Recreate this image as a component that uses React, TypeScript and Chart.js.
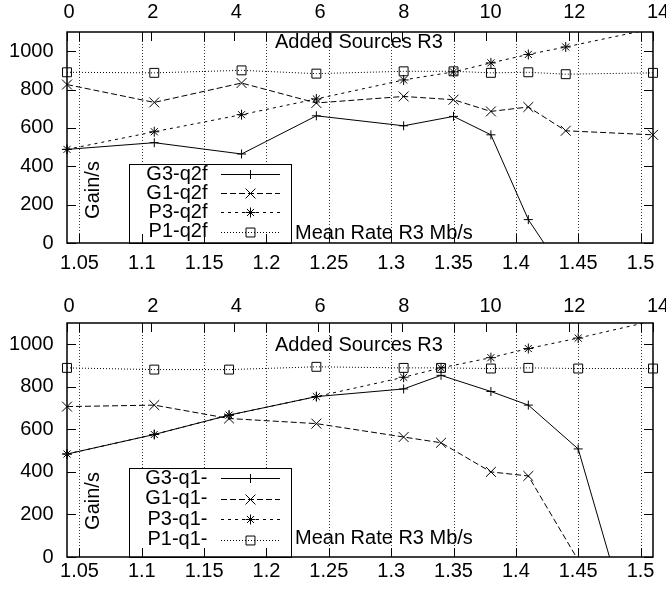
import React, { useEffect, useRef } from 'react';
import { Chart, registerables } from 'chart.js';

Chart.register(...registerables);

const FONT = '20px "Liberation Sans", Arial, sans-serif';
const CANVAS_W = 666;
const AREA_LEFT = 67;
const AREA_RIGHT = 653;
const TICK_LEN = 9;

// Axis ticks
const rateTicks = [1.05, 1.1, 1.15, 1.2, 1.25, 1.3, 1.35, 1.4, 1.45, 1.5];
const rateTickLabels = ['1.05', '1.1', '1.15', '1.2', '1.25', '1.3', '1.35', '1.4', '1.45', '1.5'];
const sourceTicks = [0, 2, 4, 6, 8, 10, 12, 14];
const gainTicks = [0, 200, 400, 600, 800, 1000];
const rateRange = [1.04, 1.51];
const sourceRange = [0, 14];
const gainRange = [0, 1100];

// q2f run: mean rate R3 (Mb/s) and gain per second
const rateQ2f = [1.04, 1.11, 1.18, 1.24, 1.31, 1.35, 1.38, 1.41, 1.44, 1.51];
const g3Q2f = [488, 523, 464, 663, 611, 660, 564, 122, -170, null];
const g1Q2f = [826, 733, 834, 730, 764, 747, 686, 709, 585, 564];
const p3Q2f = [488, 580, 669, 751, 850, 892, 939, 983, 1022, 1118];
const p1Q2f = [890, 887, 900, 883, 895, 895, 887, 890, 880, 887];
const namesQ2f = ['G3-q2f', 'G1-q2f', 'P3-q2f', 'P1-q2f'];

// q1- run
const rateQ1 = [1.04, 1.11, 1.17, 1.24, 1.31, 1.34, 1.38, 1.41, 1.45, 1.51];
const g3Q1 = [484, 576, 667, 754, 790, 854, 778, 714, 508, -705];
const g1Q1 = [707, 714, 651, 627, 564, 537, 400, 381, -15, null];
const p3Q1 = [484, 576, 667, 754, 845, 889, 937, 980, 1029, 1110];
const p1Q1 = [889, 881, 881, 894, 889, 889, 886, 889, 886, 886];
const namesQ1 = ['G3-q1-', 'G1-q1-', 'P3-q1-', 'P1-q1-'];

const xTitle = 'Mean Rate R3 Mb/s';
const x2Title = 'Added Sources R3';
const yTitle = 'Gain/s';

type Marker = 'cross' | 'crossRot' | 'star' | 'rect';
const lineStyles: { dash: number[]; point: Marker; radius: number }[] = [
  { dash: [], point: 'cross', radius: 4.5 },
  { dash: [6, 3], point: 'crossRot', radius: 7 },
  { dash: [3, 4], point: 'star', radius: 5 },
  { dash: [1, 2], point: 'rect', radius: 6.3 },
];

type PanelSpec = {
  height: number;
  areaTop: number;
  areaBottom: number;
  topLabelY: number;
  bottomLabelY: number;
  x2TitleY: number;
  xTitleY: number;
  yTitleY: number;
  legendTop: number;
  legendRowGap: number;
  rates: number[];
  series: (number | null)[][];
  names: string[];
};

const panels: PanelSpec[] = [
  {
    height: 290, areaTop: 32, areaBottom: 243, topLabelY: 12.7, bottomLabelY: 263.5,
    x2TitleY: 42.7, xTitleY: 233.3, yTitleY: 190, legendTop: 164, legendRowGap: 19.2,
    rates: rateQ2f, series: [g3Q2f, g1Q2f, p3Q2f, p1Q2f], names: namesQ2f,
  },
  {
    height: 302, areaTop: 33, areaBottom: 267, topLabelY: 16.7, bottomLabelY: 281,
    x2TitleY: 55, xTitleY: 248.3, yTitleY: 211, legendTop: 178.3, legendRowGap: 20.5,
    rates: rateQ1, series: [g3Q1, g1Q1, p3Q1, p1Q1], names: namesQ1,
  },
];

function drawMarker(ctx: CanvasRenderingContext2D, kind: Marker, x: number, y: number, r: number) {
  ctx.beginPath();
  if (kind === 'cross' || kind === 'star') {
    ctx.moveTo(x, y - r); ctx.lineTo(x, y + r);
    ctx.moveTo(x - r, y); ctx.lineTo(x + r, y);
  }
  if (kind === 'crossRot' || kind === 'star') {
    const d = r * Math.SQRT1_2;
    ctx.moveTo(x - d, y - d); ctx.lineTo(x + d, y + d);
    ctx.moveTo(x - d, y + d); ctx.lineTo(x + d, y - d);
  }
  if (kind === 'rect') {
    const s = r * Math.SQRT1_2;
    ctx.rect(x - s, y - s, 2 * s, 2 * s);
  }
  ctx.stroke();
}

function decorations(spec: PanelSpec) {
  return {
    id: 'gnuplotFrame',
    beforeDatasetsDraw(chart: any) {
      const { ctx, chartArea: a, scales } = chart;
      ctx.save();
      ctx.strokeStyle = 'rgba(0,0,0,0.8)';
      ctx.lineWidth = 1;
      ctx.setLineDash([1, 2]);
      for (const v of rateTicks) {
        const x = Math.round(scales.x.getPixelForValue(v)) + 0.5;
        ctx.beginPath();
        ctx.moveTo(x, a.top);
        ctx.lineTo(x, a.bottom);
        ctx.stroke();
      }
      ctx.restore();
    },
    afterDatasetsDraw(chart: any) {
      const { ctx, chartArea: a, scales } = chart;
      ctx.save();
      ctx.fillStyle = '#000';
      ctx.strokeStyle = '#000';
      ctx.font = FONT;
      ctx.textBaseline = 'middle';

      // key box
      const boxL = 129, boxR = 291;
      ctx.fillStyle = '#fff';
      ctx.fillRect(boxL, spec.legendTop, boxR - boxL, a.bottom - spec.legendTop);
      ctx.lineWidth = 1;
      ctx.strokeRect(boxL + 0.5, Math.round(spec.legendTop) + 0.5, boxR - boxL, a.bottom - Math.round(spec.legendTop));
      ctx.fillStyle = '#000';
      spec.names.forEach((name, i) => {
        const y = spec.legendTop + 10 + i * spec.legendRowGap;
        const st = lineStyles[i];
        ctx.textAlign = 'right';
        ctx.fillText(name, 207.5, y);
        ctx.lineWidth = 1;
        ctx.setLineDash(st.dash);
        ctx.beginPath();
        ctx.moveTo(221, Math.round(y) + 0.5);
        ctx.lineTo(280, Math.round(y) + 0.5);
        ctx.stroke();
        ctx.setLineDash([]);
        drawMarker(ctx, st.point, 250.5, Math.round(y) + 0.5, st.radius);
      });

      // axis titles inside the frame
      ctx.textAlign = 'left';
      ctx.fillText(x2Title, 275, spec.x2TitleY);
      ctx.fillText(xTitle, 295, spec.xTitleY);
      ctx.save();
      ctx.translate(93, spec.yTitleY);
      ctx.rotate(-Math.PI / 2);
      ctx.textAlign = 'center';
      ctx.fillText(yTitle, 0, 0);
      ctx.restore();

      // frame
      ctx.lineWidth = 1.5;
      ctx.strokeRect(a.left, a.top, a.right - a.left, a.bottom - a.top);

      // inward tick marks
      ctx.lineWidth = 1;
      ctx.beginPath();
      for (const v of rateTicks) {
        const x = Math.round(scales.x.getPixelForValue(v)) + 0.5;
        ctx.moveTo(x, a.bottom); ctx.lineTo(x, a.bottom - TICK_LEN);
        ctx.moveTo(x, a.top); ctx.lineTo(x, a.top + TICK_LEN);
      }
      for (const v of sourceTicks) {
        const x = Math.round(scales.x2.getPixelForValue(v)) + 0.5;
        ctx.moveTo(x, a.top); ctx.lineTo(x, a.top + TICK_LEN);
      }
      for (const v of gainTicks) {
        const y = Math.round(scales.y.getPixelForValue(v)) + 0.5;
        ctx.moveTo(a.left, y); ctx.lineTo(a.left + TICK_LEN, y);
        ctx.moveTo(a.right, y); ctx.lineTo(a.right - TICK_LEN, y);
      }
      ctx.stroke();

      // tick labels
      ctx.textAlign = 'right';
      for (const v of gainTicks) {
        ctx.fillText(String(v), a.left - 13.5, scales.y.getPixelForValue(v));
      }
      ctx.textAlign = 'center';
      rateTicks.forEach((v, i) => {
        ctx.fillText(rateTickLabels[i], scales.x.getPixelForValue(v), spec.bottomLabelY);
      });
      for (const v of sourceTicks) {
        const s = String(v);
        ctx.fillText(s, scales.x2.getPixelForValue(v) + 2 + (s.length - 1) * 3, spec.topLabelY);
      }
      ctx.restore();
    },
  };
}

function Panel({ spec }: { spec: PanelSpec }) {
  const ref = useRef<HTMLCanvasElement>(null);
  useEffect(() => {
    const canvas = ref.current;
    if (!canvas) return;
    const datasets = spec.series.map((values, i) => {
      const st = lineStyles[i];
      return {
        label: spec.names[i],
        data: spec.rates.map((r, j) => ({ x: r, y: values[j] })),
        borderColor: '#000',
        borderWidth: 1,
        borderDash: st.dash,
        pointStyle: st.point,
        pointRadius: (c: any) => {
          const v = c.raw ? c.raw.y : null;
          return v == null || v < gainRange[0] || v > gainRange[1] ? 0 : st.radius;
        },
        pointBorderColor: '#000',
        pointBackgroundColor: 'rgba(0,0,0,0)',
        pointBorderWidth: 1,
        tension: 0,
        fill: false,
        spanGaps: false,
        clip: { left: 12, right: 12, top: 0, bottom: 0 },
      };
    });
    const chart = new Chart(canvas, {
      type: 'line',
      data: { datasets },
      options: {
        animation: false,
        responsive: false,
        devicePixelRatio: 1,
        events: [],
        layout: {
          padding: {
            left: AREA_LEFT,
            right: CANVAS_W - AREA_RIGHT,
            top: spec.areaTop,
            bottom: spec.height - spec.areaBottom,
          },
        },
        plugins: { legend: { display: false }, tooltip: { enabled: false }, title: { display: false } },
        scales: {
          x: { type: 'linear', min: rateRange[0], max: rateRange[1], display: false },
          x2: { type: 'linear', position: 'top', min: sourceRange[0], max: sourceRange[1], display: false },
          y: { type: 'linear', min: gainRange[0], max: gainRange[1], display: false },
        },
      },
      plugins: [decorations(spec)],
    } as any);
    return () => chart.destroy();
  }, [spec]);
  return (
    <canvas
      ref={ref}
      width={CANVAS_W}
      height={spec.height}
      style={{ display: 'block', width: CANVAS_W, height: spec.height }}
    />
  );
}

export default function App() {
  return (
    <div style={{ position: 'absolute', left: 0, top: 0, width: CANVAS_W, height: 592, background: '#fff' }}>
      {panels.map((p, i) => (
        <Panel key={i} spec={p} />
      ))}
    </div>
  );
}
